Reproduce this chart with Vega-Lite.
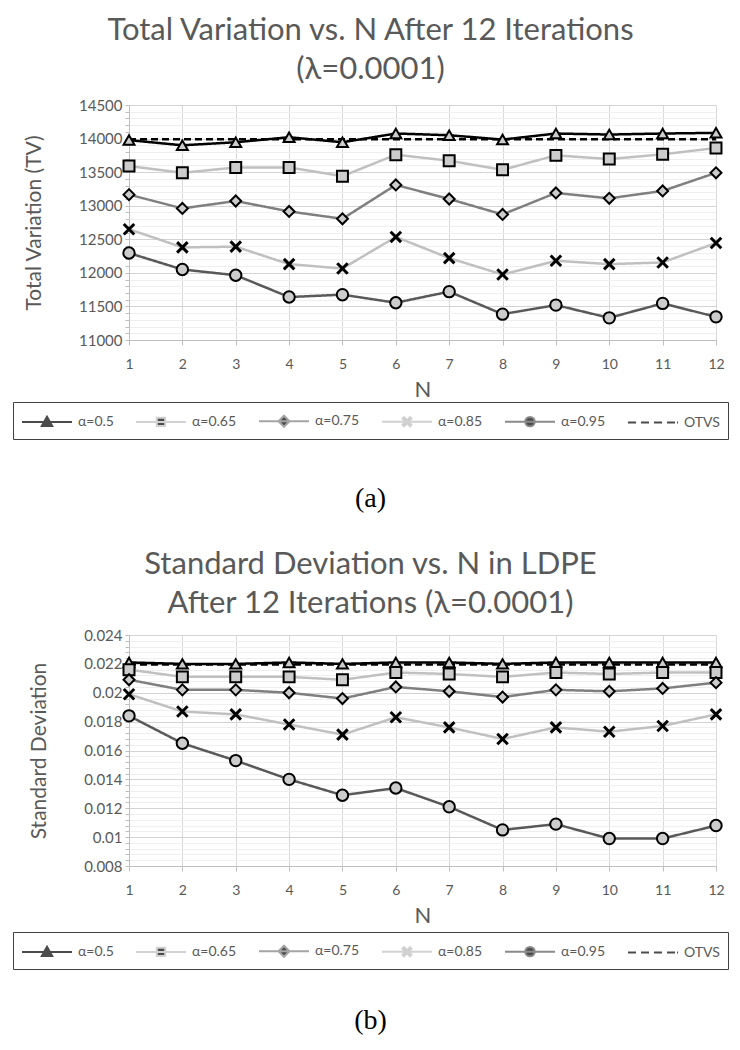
{
  "$schema": "https://vega.github.io/schema/vega-lite/v6.json",
  "padding": {"left": 12, "top": 15, "right": 4, "bottom": 4},
  "spacing": 36,
  "resolve": {
    "scale": {"color": "independent", "strokeDash": "independent", "shape": "independent", "stroke": "independent"},
    "legend": {"color": "independent", "strokeDash": "independent", "shape": "independent", "stroke": "independent"}
  },
  "config": {
    "font": "Lato",
    "view": {"stroke": null},
    "axis": {
      "labelFont": "Lato", "titleFont": "Lato", "labelColor": "#595959", "titleColor": "#595959",
      "titleFontWeight": "normal", "labelFontSize": 14, "titleFontSize": 21,
      "domainColor": "#bfbfbf", "tickColor": "#bfbfbf", "gridColor": "#d9d9d9",
      "labelOverlap": false, "labelFlush": false
    },
    "legend": {"labelFont": "Lato", "labelFontSize": 14, "labelColor": "#595959"}
  },
  "datasets": {
    "tv": [
      {"N":1,"series":"α=0.5","v":13977},{"N":2,"series":"α=0.5","v":13900},{"N":3,"series":"α=0.5","v":13945},{"N":4,"series":"α=0.5","v":14020},{"N":5,"series":"α=0.5","v":13945},{"N":6,"series":"α=0.5","v":14075},{"N":7,"series":"α=0.5","v":14050},{"N":8,"series":"α=0.5","v":13985},{"N":9,"series":"α=0.5","v":14075},{"N":10,"series":"α=0.5","v":14060},{"N":11,"series":"α=0.5","v":14075},{"N":12,"series":"α=0.5","v":14085},
      {"N":1,"series":"α=0.65","v":13590},{"N":2,"series":"α=0.65","v":13490},{"N":3,"series":"α=0.65","v":13570},{"N":4,"series":"α=0.65","v":13570},{"N":5,"series":"α=0.65","v":13440},{"N":6,"series":"α=0.65","v":13760},{"N":7,"series":"α=0.65","v":13670},{"N":8,"series":"α=0.65","v":13535},{"N":9,"series":"α=0.65","v":13750},{"N":10,"series":"α=0.65","v":13695},{"N":11,"series":"α=0.65","v":13765},{"N":12,"series":"α=0.65","v":13860},
      {"N":1,"series":"α=0.75","v":13165},{"N":2,"series":"α=0.75","v":12960},{"N":3,"series":"α=0.75","v":13070},{"N":4,"series":"α=0.75","v":12915},{"N":5,"series":"α=0.75","v":12805},{"N":6,"series":"α=0.75","v":13310},{"N":7,"series":"α=0.75","v":13100},{"N":8,"series":"α=0.75","v":12870},{"N":9,"series":"α=0.75","v":13190},{"N":10,"series":"α=0.75","v":13110},{"N":11,"series":"α=0.75","v":13220},{"N":12,"series":"α=0.75","v":13490},
      {"N":1,"series":"α=0.85","v":12650},{"N":2,"series":"α=0.85","v":12380},{"N":3,"series":"α=0.85","v":12390},{"N":4,"series":"α=0.85","v":12130},{"N":5,"series":"α=0.85","v":12065},{"N":6,"series":"α=0.85","v":12535},{"N":7,"series":"α=0.85","v":12220},{"N":8,"series":"α=0.85","v":11975},{"N":9,"series":"α=0.85","v":12180},{"N":10,"series":"α=0.85","v":12130},{"N":11,"series":"α=0.85","v":12155},{"N":12,"series":"α=0.85","v":12445},
      {"N":1,"series":"α=0.95","v":12295},{"N":2,"series":"α=0.95","v":12050},{"N":3,"series":"α=0.95","v":11965},{"N":4,"series":"α=0.95","v":11640},{"N":5,"series":"α=0.95","v":11675},{"N":6,"series":"α=0.95","v":11555},{"N":7,"series":"α=0.95","v":11720},{"N":8,"series":"α=0.95","v":11385},{"N":9,"series":"α=0.95","v":11520},{"N":10,"series":"α=0.95","v":11330},{"N":11,"series":"α=0.95","v":11545},{"N":12,"series":"α=0.95","v":11345},
      {"N":1,"series":"OTVS","v":13990},{"N":2,"series":"OTVS","v":13990},{"N":3,"series":"OTVS","v":13990},{"N":4,"series":"OTVS","v":13990},{"N":5,"series":"OTVS","v":13990},{"N":6,"series":"OTVS","v":13990},{"N":7,"series":"OTVS","v":13990},{"N":8,"series":"OTVS","v":13990},{"N":9,"series":"OTVS","v":13990},{"N":10,"series":"OTVS","v":13990},{"N":11,"series":"OTVS","v":13990},{"N":12,"series":"OTVS","v":13990}
    ],
    "sd": [
      {"N":1,"series":"α=0.5","v":0.0221},{"N":2,"series":"α=0.5","v":0.0220},{"N":3,"series":"α=0.5","v":0.0220},{"N":4,"series":"α=0.5","v":0.0221},{"N":5,"series":"α=0.5","v":0.0220},{"N":6,"series":"α=0.5","v":0.0221},{"N":7,"series":"α=0.5","v":0.0221},{"N":8,"series":"α=0.5","v":0.0220},{"N":9,"series":"α=0.5","v":0.0221},{"N":10,"series":"α=0.5","v":0.0221},{"N":11,"series":"α=0.5","v":0.0221},{"N":12,"series":"α=0.5","v":0.0221},
      {"N":1,"series":"α=0.65","v":0.0216},{"N":2,"series":"α=0.65","v":0.0211},{"N":3,"series":"α=0.65","v":0.0211},{"N":4,"series":"α=0.65","v":0.0211},{"N":5,"series":"α=0.65","v":0.0209},{"N":6,"series":"α=0.65","v":0.0214},{"N":7,"series":"α=0.65","v":0.0213},{"N":8,"series":"α=0.65","v":0.0211},{"N":9,"series":"α=0.65","v":0.0214},{"N":10,"series":"α=0.65","v":0.0213},{"N":11,"series":"α=0.65","v":0.0214},{"N":12,"series":"α=0.65","v":0.0214},
      {"N":1,"series":"α=0.75","v":0.0209},{"N":2,"series":"α=0.75","v":0.0202},{"N":3,"series":"α=0.75","v":0.0202},{"N":4,"series":"α=0.75","v":0.0200},{"N":5,"series":"α=0.75","v":0.0196},{"N":6,"series":"α=0.75","v":0.0204},{"N":7,"series":"α=0.75","v":0.0201},{"N":8,"series":"α=0.75","v":0.0197},{"N":9,"series":"α=0.75","v":0.0202},{"N":10,"series":"α=0.75","v":0.0201},{"N":11,"series":"α=0.75","v":0.0203},{"N":12,"series":"α=0.75","v":0.0207},
      {"N":1,"series":"α=0.85","v":0.0199},{"N":2,"series":"α=0.85","v":0.0187},{"N":3,"series":"α=0.85","v":0.0185},{"N":4,"series":"α=0.85","v":0.0178},{"N":5,"series":"α=0.85","v":0.0171},{"N":6,"series":"α=0.85","v":0.0183},{"N":7,"series":"α=0.85","v":0.0176},{"N":8,"series":"α=0.85","v":0.0168},{"N":9,"series":"α=0.85","v":0.0176},{"N":10,"series":"α=0.85","v":0.0173},{"N":11,"series":"α=0.85","v":0.0177},{"N":12,"series":"α=0.85","v":0.0185},
      {"N":1,"series":"α=0.95","v":0.0184},{"N":2,"series":"α=0.95","v":0.0165},{"N":3,"series":"α=0.95","v":0.0153},{"N":4,"series":"α=0.95","v":0.0140},{"N":5,"series":"α=0.95","v":0.0129},{"N":6,"series":"α=0.95","v":0.0134},{"N":7,"series":"α=0.95","v":0.0121},{"N":8,"series":"α=0.95","v":0.0105},{"N":9,"series":"α=0.95","v":0.0109},{"N":10,"series":"α=0.95","v":0.0099},{"N":11,"series":"α=0.95","v":0.0099},{"N":12,"series":"α=0.95","v":0.0108},
      {"N":1,"series":"OTVS","v":0.02195},{"N":2,"series":"OTVS","v":0.02195},{"N":3,"series":"OTVS","v":0.02195},{"N":4,"series":"OTVS","v":0.02195},{"N":5,"series":"OTVS","v":0.02195},{"N":6,"series":"OTVS","v":0.02195},{"N":7,"series":"OTVS","v":0.02195},{"N":8,"series":"OTVS","v":0.02195},{"N":9,"series":"OTVS","v":0.02195},{"N":10,"series":"OTVS","v":0.02195},{"N":11,"series":"OTVS","v":0.02195},{"N":12,"series":"OTVS","v":0.02195}
    ]
  },
  "vconcat": [
    {
      "title": {"text": "(a)", "orient": "bottom", "anchor": "middle", "frame": "bounds", "font": "Liberation Serif", "fontSize": 28, "fontWeight": "normal", "color": "#000000", "offset": 45},
      "resolve": {
        "scale": {"color": "independent", "strokeDash": "independent", "shape": "independent", "stroke": "independent"},
        "legend": {"color": "independent", "strokeDash": "independent", "shape": "independent", "stroke": "independent"}
      },
      "vconcat": [
        {
          "width": 587, "height": 235,
          "title": {"text": ["Total Variation vs. N After 12 Iterations", "(λ=0.0001)"], "fontSize": 31, "font": "Lato", "color": "#595959", "fontWeight": "normal", "lineHeight": 39, "offset": 12, "frame": "bounds", "anchor": "middle"},
          "data": {"name": "tv"},
          "encoding": {
            "x": {"field": "N", "type": "quantitative", "scale": {"domain": [1, 12], "nice": false, "zero": false},
                  "axis": {"values": [1,2,3,4,5,6,7,8,9,10,11,12], "format": "d", "title": "N", "titleFontSize": 22, "titlePadding": 8, "labelPadding": 12, "tickSize": 5, "grid": true}},
            "y": {"field": "v", "type": "quantitative", "scale": {"domain": [11000, 14500], "nice": false, "zero": false},
                  "axis": {"values": [11000,11100,11200,11300,11400,11500,11600,11700,11800,11900,12000,12100,12200,12300,12400,12500,12600,12700,12800,12900,13000,13100,13200,13300,13400,13500,13600,13700,13800,13900,14000,14100,14200,14300,14400,14500],
                           "format": "d", "labelExpr": "datum.value % 500 === 0 ? datum.label : ''", "title": "Total Variation (TV)", "titlePadding": 34, "labelPadding": 3, "labelFontSize": 15, "tickSize": 4,
                           "gridColor": {"condition": {"test": "datum.value % 500 === 0", "value": "#d4d4d4"}, "value": "#efefef"}}}
          },
          "layer": [
            {
              "mark": {"type": "line", "strokeWidth": 2.5},
              "encoding": {
                "color": {"field": "series", "type": "nominal", "legend": null, "scale": {"domain": ["OTVS","α=0.5","α=0.65","α=0.75","α=0.85","α=0.95"], "range": ["#000000","#000000","#c0c0c0","#7f7f7f","#c0c0c0","#595959"]}},
                "strokeDash": {"field": "series", "type": "nominal", "legend": null, "scale": {"domain": ["OTVS","α=0.5","α=0.65","α=0.75","α=0.85","α=0.95"], "range": [[7,4],[1,0],[1,0],[1,0],[1,0],[1,0]]}}
              }
            },
            {"transform": [{"filter": "datum.series === 'α=0.5'"}], "mark": {"type": "point", "filled": true, "fill": "#cccccc", "stroke": "#000000", "strokeWidth": 2, "size": 120, "opacity": 1, "shape": "triangle-up"}},
            {"transform": [{"filter": "datum.series === 'α=0.65'"}], "mark": {"type": "point", "filled": true, "fill": "#cccccc", "stroke": "#000000", "strokeWidth": 2, "size": 120, "opacity": 1, "shape": "square"}},
            {"transform": [{"filter": "datum.series === 'α=0.75'"}], "mark": {"type": "point", "filled": true, "fill": "#cccccc", "stroke": "#000000", "strokeWidth": 2, "size": 120, "opacity": 1, "shape": "diamond"}},
            {"transform": [{"filter": "datum.series === 'α=0.85'"}], "mark": {"type": "point", "filled": true, "fill": "#cccccc", "stroke": "#000000", "strokeWidth": 3, "size": 110, "opacity": 1, "shape": "M-1,-1L1,1M-1,1L1,-1"}},
            {"transform": [{"filter": "datum.series === 'α=0.95'"}], "mark": {"type": "point", "filled": true, "fill": "#cccccc", "stroke": "#000000", "strokeWidth": 2, "size": 130, "opacity": 1, "shape": "circle"}},
            {
              "transform": [{"filter": "datum.N > 100"}],
              "mark": {"type": "point", "filled": false, "fill": "#000000"},
              "encoding": {
                "shape": {"field": "series", "type": "nominal", "scale": {"domain": ["α=0.5","α=0.65","α=0.75","α=0.85","α=0.95","OTVS"], "range": ["M-2.5,0H2.5M0,-0.52L0.52,0.42H-0.52Z","M-2.5,0H2.5M-0.42,-0.42H0.42V0.42H-0.42Z","M-2.5,0H2.5M0,-0.55L0.55,0L0,0.55L-0.55,0Z","M-2.5,0H2.5M-0.45,-0.3L-0.3,-0.45L0,-0.15L0.3,-0.45L0.45,-0.3L0.15,0L0.45,0.3L0.3,0.45L0,0.15L-0.3,0.45L-0.45,0.3L-0.15,0Z","M-2.5,0H2.5M-0.47,0A0.47,0.47,0,1,0,0.47,0A0.47,0.47,0,1,0,-0.47,0Z","M-2.5,0H-1.7M-1.2,0H-0.4M0.1,0H0.9M1.4,0H2.2M2.4,0H2.5"]},
                  "legend": {"title": null, "orient": "none", "legendX": -116, "legendY": 297, "direction": "horizontal", "columns": 6, "symbolSize": 400, "symbolOffset": 15, "labelOffset": 20, "columnPadding": 18, "padding": 8, "strokeColor": "#404040", "symbolStrokeWidth": 2, "symbolFillColor": "#000000",
                             "encode": {"symbols": {"update": {"fill": {"value": "#000000"}}}, "legend": {"update": {"strokeWidth": {"value": 1.5}}}}}},
                "stroke": {"field": "series", "type": "nominal", "scale": {"domain": ["α=0.5","α=0.65","α=0.75","α=0.85","α=0.95","OTVS"], "range": ["#000000","#c0c0c0","#7f7f7f","#c0c0c0","#595959","#000000"]},
                  "legend": {"title": null, "orient": "none", "legendX": -116, "legendY": 297, "direction": "horizontal", "columns": 6, "symbolSize": 400, "symbolOffset": 15, "labelOffset": 20, "columnPadding": 18, "padding": 8, "strokeColor": "#404040", "symbolStrokeWidth": 2, "symbolFillColor": "#000000",
                             "encode": {"symbols": {"update": {"fill": {"value": "#000000"}}}}}}
              }
            }
          ]
        }
      ]
    },
    {
      "title": {"text": "(b)", "orient": "bottom", "anchor": "middle", "frame": "bounds", "font": "Liberation Serif", "fontSize": 28, "fontWeight": "normal", "color": "#000000", "offset": 37},
      "resolve": {
        "scale": {"color": "independent", "strokeDash": "independent", "shape": "independent", "stroke": "independent"},
        "legend": {"color": "independent", "strokeDash": "independent", "shape": "independent", "stroke": "independent"}
      },
      "vconcat": [
        {
          "width": 587, "height": 231,
          "title": {"text": ["Standard Deviation vs. N in LDPE", "After 12 Iterations (λ=0.0001)"], "fontSize": 31, "font": "Lato", "color": "#595959", "fontWeight": "normal", "lineHeight": 39, "offset": 8, "frame": "bounds", "anchor": "middle"},
          "data": {"name": "sd"},
          "encoding": {
            "x": {"field": "N", "type": "quantitative", "scale": {"domain": [1, 12], "nice": false, "zero": false},
                  "axis": {"values": [1,2,3,4,5,6,7,8,9,10,11,12], "format": "d", "title": "N", "titleFontSize": 22, "titlePadding": 8, "labelPadding": 12, "tickSize": 5, "grid": true}},
            "y": {"field": "v", "type": "quantitative", "scale": {"domain": [0.008, 0.024], "nice": false, "zero": false},
                  "axis": {"values": [0.008,0.0084,0.0088,0.0092,0.0096,0.01,0.0104,0.0108,0.0112,0.0116,0.012,0.0124,0.0128,0.0132,0.0136,0.014,0.0144,0.0148,0.0152,0.0156,0.016,0.0164,0.0168,0.0172,0.0176,0.018,0.0184,0.0188,0.0192,0.0196,0.02,0.0204,0.0208,0.0212,0.0216,0.022,0.0224,0.0228,0.0232,0.0236,0.024],
                           "labelExpr": "abs(datum.value*500 - round(datum.value*500)) < 0.001 ? format(datum.value, '~g') : ''", "title": "Standard Deviation", "titlePadding": 34, "labelPadding": 3, "labelFontSize": 15, "tickSize": 4,
                           "gridColor": {"condition": {"test": "abs(datum.value*500 - round(datum.value*500)) < 0.001", "value": "#d4d4d4"}, "value": "#efefef"}}}
          },
          "layer": [
            {
              "mark": {"type": "line", "strokeWidth": 2.5},
              "encoding": {
                "color": {"field": "series", "type": "nominal", "legend": null, "scale": {"domain": ["OTVS","α=0.5","α=0.65","α=0.75","α=0.85","α=0.95"], "range": ["#000000","#000000","#c0c0c0","#7f7f7f","#c0c0c0","#595959"]}},
                "strokeDash": {"field": "series", "type": "nominal", "legend": null, "scale": {"domain": ["OTVS","α=0.5","α=0.65","α=0.75","α=0.85","α=0.95"], "range": [[7,4],[1,0],[1,0],[1,0],[1,0],[1,0]]}}
              }
            },
            {"transform": [{"filter": "datum.series === 'α=0.5'"}], "mark": {"type": "point", "filled": true, "fill": "#cccccc", "stroke": "#000000", "strokeWidth": 2, "size": 120, "opacity": 1, "shape": "triangle-up"}},
            {"transform": [{"filter": "datum.series === 'α=0.65'"}], "mark": {"type": "point", "filled": true, "fill": "#cccccc", "stroke": "#000000", "strokeWidth": 2, "size": 120, "opacity": 1, "shape": "square"}},
            {"transform": [{"filter": "datum.series === 'α=0.75'"}], "mark": {"type": "point", "filled": true, "fill": "#cccccc", "stroke": "#000000", "strokeWidth": 2, "size": 120, "opacity": 1, "shape": "diamond"}},
            {"transform": [{"filter": "datum.series === 'α=0.85'"}], "mark": {"type": "point", "filled": true, "fill": "#cccccc", "stroke": "#000000", "strokeWidth": 3, "size": 110, "opacity": 1, "shape": "M-1,-1L1,1M-1,1L1,-1"}},
            {"transform": [{"filter": "datum.series === 'α=0.95'"}], "mark": {"type": "point", "filled": true, "fill": "#cccccc", "stroke": "#000000", "strokeWidth": 2, "size": 130, "opacity": 1, "shape": "circle"}},
            {
              "transform": [{"filter": "datum.N > 100"}],
              "mark": {"type": "point", "filled": false, "fill": "#000000"},
              "encoding": {
                "shape": {"field": "series", "type": "nominal", "scale": {"domain": ["α=0.5","α=0.65","α=0.75","α=0.85","α=0.95","OTVS"], "range": ["M-2.5,0H2.5M0,-0.52L0.52,0.42H-0.52Z","M-2.5,0H2.5M-0.42,-0.42H0.42V0.42H-0.42Z","M-2.5,0H2.5M0,-0.55L0.55,0L0,0.55L-0.55,0Z","M-2.5,0H2.5M-0.45,-0.3L-0.3,-0.45L0,-0.15L0.3,-0.45L0.45,-0.3L0.15,0L0.45,0.3L0.3,0.45L0,0.15L-0.3,0.45L-0.45,0.3L-0.15,0Z","M-2.5,0H2.5M-0.47,0A0.47,0.47,0,1,0,0.47,0A0.47,0.47,0,1,0,-0.47,0Z","M-2.5,0H-1.7M-1.2,0H-0.4M0.1,0H0.9M1.4,0H2.2M2.4,0H2.5"]},
                  "legend": {"title": null, "orient": "none", "legendX": -116, "legendY": 297, "direction": "horizontal", "columns": 6, "symbolSize": 400, "symbolOffset": 15, "labelOffset": 20, "columnPadding": 18, "padding": 8, "strokeColor": "#404040", "symbolStrokeWidth": 2, "symbolFillColor": "#000000",
                             "encode": {"symbols": {"update": {"fill": {"value": "#000000"}}}, "legend": {"update": {"strokeWidth": {"value": 1.5}}}}}},
                "stroke": {"field": "series", "type": "nominal", "scale": {"domain": ["α=0.5","α=0.65","α=0.75","α=0.85","α=0.95","OTVS"], "range": ["#000000","#c0c0c0","#7f7f7f","#c0c0c0","#595959","#000000"]},
                  "legend": {"title": null, "orient": "none", "legendX": -116, "legendY": 297, "direction": "horizontal", "columns": 6, "symbolSize": 400, "symbolOffset": 15, "labelOffset": 20, "columnPadding": 18, "padding": 8, "strokeColor": "#404040", "symbolStrokeWidth": 2, "symbolFillColor": "#000000",
                             "encode": {"symbols": {"update": {"fill": {"value": "#000000"}}}}}}
              }
            }
          ]
        }
      ]
    }
  ]
}
